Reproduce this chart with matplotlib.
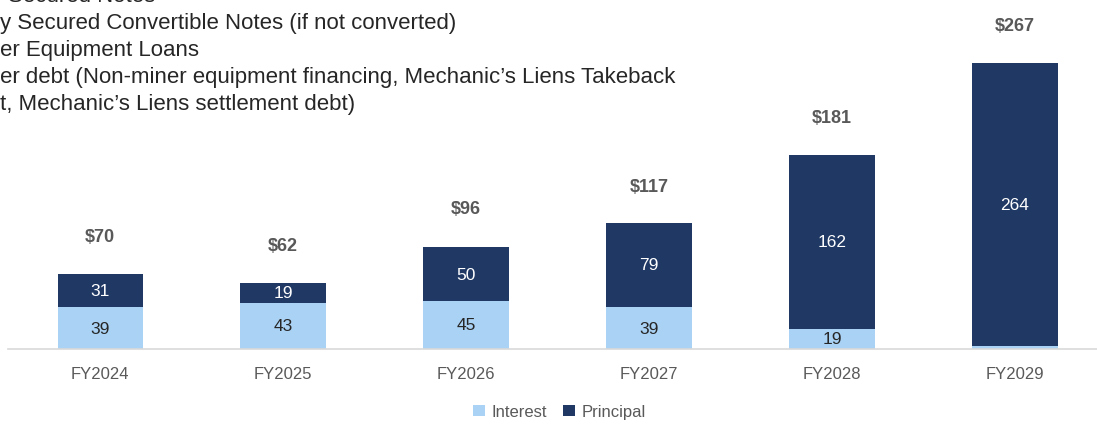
import matplotlib.pyplot as plt
import numpy as np

plt.rcParams['font.family'] = ['Liberation Sans', 'DejaVu Sans']

years = ["FY2024", "FY2025", "FY2026", "FY2027", "FY2028", "FY2029"]
interest = [39, 43, 45, 39, 19, 3]
principal = [31, 19, 50, 79, 162, 264]
totals = [70, 62, 96, 117, 181, 267]

notes_lines = [
    "Secured Notes",
    "y Secured Convertible Notes (if not converted)",
    "er Equipment Loans",
    "er debt (Non-miner equipment financing, Mechanic\u2019s Liens Takeback",
    "t, Mechanic\u2019s Liens settlement debt)",
]

light = "#A9D2F5"
dark = "#1F3864"
grey = "#595959"

fig = plt.figure(figsize=(10.97, 4.27), dpi=100)
ax = fig.add_axes([8 / 1097, 77 / 427, 1089 / 1097, 350 / 427])

x = np.arange(len(years))
w = 0.465
b1 = ax.bar(x, interest, w, color=light, label="Interest")
b2 = ax.bar(x, principal, w, bottom=interest, color=dark, label="Principal")

for i in range(len(years)):
    if interest[i] >= 10:
        ax.text(x[i], interest[i] / 2, str(interest[i]), ha="center", va="center",
                fontsize=12.5, color="#262626")
    ax.text(x[i], interest[i] + principal[i] / 2, str(principal[i]), ha="center",
            va="center", fontsize=12.5, color="white")
    ax.annotate(f"${totals[i]}", (x[i], totals[i]), xytext=(0, 27),
                textcoords="offset points", ha="center", va="center",
                fontsize=13, fontweight="bold", color=grey)

ax.set_xlim(-0.503, 5.448)
ax.set_ylim(0, 326.8)
ax.set_yticks([])
ax.set_xticks(x)
ax.set_xticklabels(years, fontsize=12, color=grey)
ax.tick_params(axis="x", length=0, pad=12)
for s in ["top", "right", "left"]:
    ax.spines[s].set_visible(False)
ax.spines["bottom"].set_color("#D9D9D9")
ax.spines["bottom"].set_linewidth(1.2)

fig.legend(handles=[b1, b2], loc="center", bbox_to_anchor=(0.51, 0.033), ncol=2,
           frameon=False, fontsize=12, labelcolor=grey, handlelength=0.7,
           handleheight=0.7, handletextpad=0.4, columnspacing=1.0)

for i, line in enumerate(notes_lines):
    fig.text(0.0 if i else 8 / 1097, 1 - (-3 + 26.8 * i) / 427, line, ha="left",
             va="center", fontsize=16, color="#262626")

fig.savefig("out.png", dpi=100)
